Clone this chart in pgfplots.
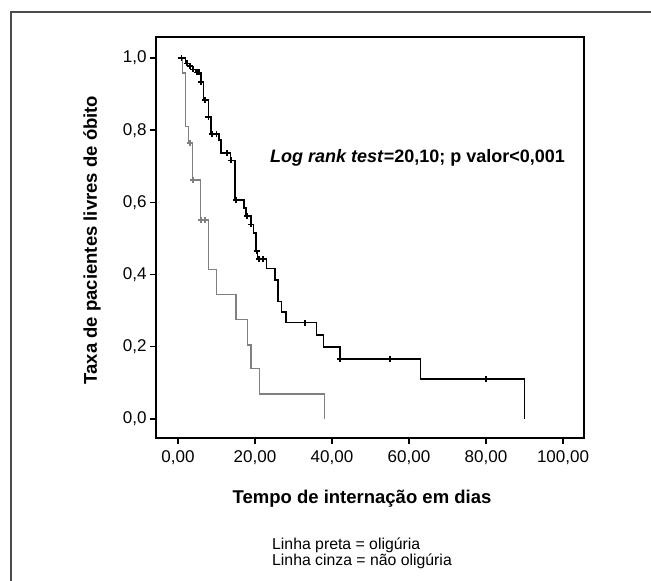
\documentclass[border=0pt]{standalone}
\usepackage{fontspec}
\setmainfont{Liberation Sans}
\usepackage{pgfplots}
\pgfplotsset{compat=1.18}

% Kaplan-Meier steps: (day, survival after that day)
\pgfplotstableread{
t s
0.8 1.000
2.0 0.985
3.0 0.977
3.8 0.968
4.6 0.960
5.9 0.934
6.6 0.884
7.9 0.837
8.6 0.789
10.7 0.773
11.2 0.736
13.6 0.716
14.8 0.607
17.1 0.585
17.7 0.563
18.9 0.539
19.6 0.515
20.3 0.465
20.6 0.443
23.0 0.417
25.2 0.385
26.0 0.325
26.9 0.297
28.1 0.267
36.0 0.232
37.8 0.200
42.1 0.166
63.0 0.111
90.0 0.000
}\oliguria

\pgfplotstableread{
t s
0.9 1.000
2.4 0.985
3.1 0.977
3.9 0.968
4.9 0.960
5.5 0.960
6.0 0.934
7.1 0.884
7.9 0.837
8.8 0.789
10.0 0.789
12.8 0.736
13.8 0.716
15.1 0.607
17.9 0.563
19.0 0.539
20.4 0.465
21.0 0.443
22.0 0.443
33.0 0.267
42.1 0.166
55.1 0.166
80.0 0.111
}\oliguriacens

\pgfplotstableread{
t s
0.8 1.000
1.2 0.958
1.9 0.810
2.8 0.764
3.8 0.662
5.8 0.551
8.0 0.415
10.0 0.345
15.1 0.276
18.1 0.205
19.0 0.140
21.1 0.069
38.0 0.000
}\naooliguria

\pgfplotstableread{
t s
3.1 0.764
3.9 0.662
5.9 0.551
7.0 0.551
}\naooliguriacens

\begin{document}
\begin{tikzpicture}
\useasboundingbox (0pt,0pt) rectangle (651pt,-581pt);
\draw[line width=1.3pt, black!70] (11pt,-590pt) -- (11pt,-12pt) -- (660pt,-12pt);

\begin{axis}[
  at={(156pt,-438pt)}, anchor=south west,
  scale only axis, width=428pt, height=401pt,
  xmin=-5.71, xmax=105.45, ymin=-0.0526, ymax=1.058,
  axis line style={line width=1.6pt},
  xtick={0,20,40,60,80,100},
  ytick={0,0.2,0.4,0.6,0.8,1.0},
  tick align=outside, xtick pos=bottom, ytick pos=left,
  major tick length=6pt,
  tick style={line width=1.4pt, black},
  tick label style={font=\fontsize{17}{17}\selectfont},
  x tick label style={yshift=-3pt, /pgf/number format/.cd, fixed, fixed zerofill, precision=2, use comma, 1000 sep={}, assume math mode=true},
  y tick label style={/pgf/number format/.cd, fixed, fixed zerofill, precision=1, use comma, assume math mode=true},
  clip=false,
]
\addplot[const plot, black!50, line width=1.3pt] table[x=t, y=s] {\naooliguria};
\addplot[only marks, mark=+, mark size=3pt, black!50, mark options={line width=1.6pt}] table[x=t, y=s] {\naooliguriacens};
\addplot[const plot, black, line width=1.6pt] table[x=t, y=s] {\oliguria};
\addplot[only marks, mark=+, mark size=3pt, black, mark options={line width=1.7pt}] table[x=t, y=s] {\oliguriacens};
\end{axis}

\node[anchor=west, font=\fontsize{18}{18}\selectfont\bfseries, inner sep=0pt] at (270pt,-158pt)
  {\textit{Log rank test}=20,10; p valor<0,001};
\node[rotate=90, font=\fontsize{18.5}{18.5}\selectfont\bfseries, inner sep=0pt] at (92pt,-240pt)
  {Taxa de pacientes livres de óbito};
\node[font=\fontsize{18.5}{18.5}\selectfont\bfseries, inner sep=0pt] at (362pt,-499pt)
  {Tempo de internação em dias};
\node[anchor=north west, align=left, font=\fontsize{15.8}{14}\selectfont, inner sep=0pt] at (272pt,-538pt)
  {Linha preta = oligúria\\Linha cinza = não oligúria};
\end{tikzpicture}
\end{document}
